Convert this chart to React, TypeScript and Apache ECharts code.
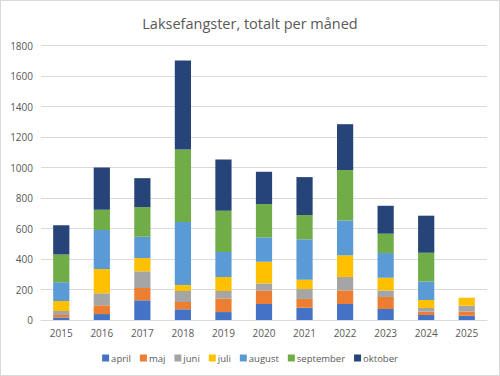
import React, { useEffect, useRef } from "react";
import * as echarts from "echarts";

const years = ["2015","2016","2017","2018","2019","2020","2021","2022","2023","2024","2025"];
const april = [17, 39, 129, 70, 52, 105, 81, 105, 72, 33, 28];
const maj = [16, 57, 81, 48, 88, 87, 57, 89, 79, 22, 27];
const juni = [26, 79, 109, 72, 50, 48, 65, 88, 43, 24, 39];
const juli = [65, 159, 87, 39, 92, 142, 61, 142, 83, 52, 52];
const august = [123, 256, 140, 413, 164, 160, 265, 229, 162, 122, 0];
const september = [183, 133, 194, 476, 270, 218, 159, 330, 127, 188, 0];
const oktober = [192, 277, 190, 583, 337, 212, 249, 301, 183, 243, 0];
const yTicks = [0, 200, 400, 600, 800, 1000, 1200, 1400, 1600, 1800];

const seriesDefs = [
  { name: "april", data: april, color: "#4472C4" },
  { name: "maj", data: maj, color: "#ED7D31" },
  { name: "juni", data: juni, color: "#A5A5A5" },
  { name: "juli", data: juli, color: "#FFC000" },
  { name: "august", data: august, color: "#5B9BD5" },
  { name: "september", data: september, color: "#70AD47" },
  { name: "oktober", data: oktober, color: "#264478" },
];

export default function App() {
  const ref = useRef<HTMLDivElement>(null);
  useEffect(() => {
    document.body.style.margin = "0";
    const chart = echarts.init(ref.current!, null, { renderer: "svg" });
    const font = "'Open Sans', 'Noto Sans', sans-serif";
    chart.setOption({
      animation: false,
      backgroundColor: "transparent",
      title: {
        text: "Laksefangster, totalt per måned",
        left: "center",
        top: 11,
        textStyle: { fontFamily: font, fontSize: 14.5, fontWeight: "normal", color: "#595959" },
      },
      legend: {
        bottom: 8,
        left: "center",
        itemWidth: 7,
        itemHeight: 7,
        itemGap: 9,
        icon: "rect",
        textStyle: { fontFamily: font, fontSize: 9.5, color: "#595959", padding: [0, 0, 0, -3] },
        data: seriesDefs.map((s) => s.name),
      },
      grid: { left: 41, right: 13, top: 45.5, bottom: 56, containLabel: false },
      xAxis: {
        type: "category",
        data: years,
        axisLine: { lineStyle: { color: "#D9D9D9" } },
        axisTick: { show: false },
        axisLabel: { fontFamily: font, fontSize: 10, color: "#595959", margin: 8 },
      },
      yAxis: {
        type: "value",
        min: yTicks[0],
        max: yTicks[yTicks.length - 1],
        interval: 200,
        axisLine: { show: false },
        axisTick: { show: false },
        axisLabel: { fontFamily: font, fontSize: 10, color: "#595959", margin: 8, formatter: (v: number) => String(v) },
        splitLine: { lineStyle: { color: "#D9D9D9" } },
      },
      series: seriesDefs.map((s) => ({
        name: s.name,
        type: "bar",
        stack: "total",
        barWidth: "40%",
        data: s.data,
        itemStyle: { color: s.color },
      })),
    });
    return () => chart.dispose();
  }, []);
  return (
    <div style={{ width: 500, height: 376, boxSizing: "border-box", border: "1px solid #D9D9D9", position: "relative", background: "#fff" }}>
      <div ref={ref} style={{ position: "absolute", left: -1, top: -1, width: 500, height: 376 }} />
    </div>
  );
}
